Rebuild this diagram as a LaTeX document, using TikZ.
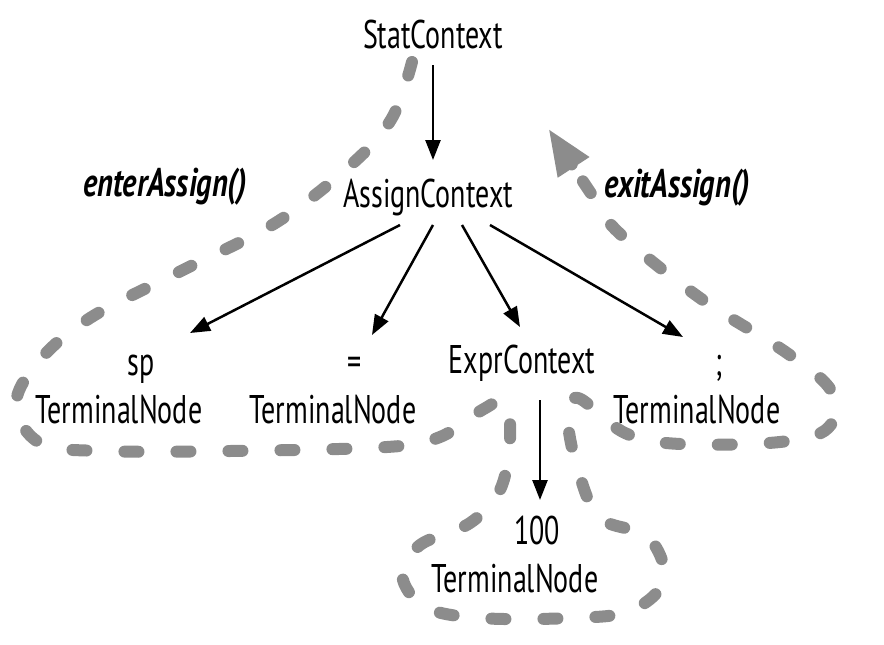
\documentclass[tikz,border=0pt]{standalone}
\usepackage{fontspec}
\setmainfont{PT Sans}[FakeStretch=0.70]
\newfontfamily\callfont{PT Sans}[FakeStretch=0.76]
\usetikzlibrary{arrows.meta}
\tikzset{
  ctx/.style={font=\fontsize{40}{48}\selectfont, inner sep=0pt, anchor=base},
  call/.style={ctx, font=\fontsize{40}{48}\selectfont\callfont\bfseries\itshape},
  term/.style={ctx, align=center},
  edge/.style={line width=2.5pt, -{Triangle[length=20pt,width=15pt]}},
  walk/.style={line width=12pt, line cap=round, draw=black!45,
    dash pattern=on 14pt off 38pt, -{Triangle[length=47pt,width=34pt,fill=black!45]}}
}
\newcommand{\tval}[1]{\hspace*{44pt}#1}
\begin{document}
\begin{tikzpicture}[x=1pt,y=-1pt]
    \useasboundingbox (0,0) rectangle (884,645);
    % tree
    \node[ctx] (stat) at (433,48) {StatContext};
    \node[ctx] (assign) at (428,207) {AssignContext};
    \node[call] (enter) at (165,196) {enterAssign()};
    \node[call] (exit) at (677,197) {exitAssign()};
    \node[term] (sp) at (119,423) {\tval{sp}\\TerminalNode};
    \node[term] (eq) at (333,423) {\tval{=}\\TerminalNode};
    \node[ctx] (expr) at (522,373) {ExprContext};
    \node[term] (semi) at (697,423) {\tval{;}\\TerminalNode};
    \node[term] (hundred) at (515,592) {\tval{100}\\TerminalNode};
    \draw[edge] ([yshift=-17pt]stat.base) -- ([xshift=5pt,yshift=47pt]assign.base);
    \draw[edge] ([xshift=-28pt,yshift=-18pt]assign.base) -- ([xshift=71pt,yshift=90pt]sp.base);
    \draw[edge] ([xshift=5pt,yshift=-18pt]assign.base) -- ([xshift=39pt,yshift=88pt]eq.base);
    \draw[edge] ([xshift=34pt,yshift=-18pt]assign.base) -- ([xshift=-2pt,yshift=46pt]expr.base);
    \draw[edge] ([xshift=62pt,yshift=-18pt]assign.base) -- ([xshift=-14pt,yshift=86pt]semi.base);
    \draw[edge] ([xshift=18pt,yshift=-27pt]expr.base) -- ([xshift=25pt,yshift=92pt]hundred.base);
    % walk round the tree
    \draw[walk] plot[smooth, tension=0.6] coordinates {(412,62) (392,118) (352,164) (277,222)
      (183,270) (90,318) (38,362) (16,405) (40,443) (100,451) (230,451) (387,447) (440,437)
      (482,410) (505,402) (510,440) (500,490) (470,523) (420,545) (402,575) (425,607) (480,618)
      (570,618) (630,611) (664,580) (648,537) (600,518) (578,470) (568,420) (578,398) (625,433)
      (680,444) (780,442) (828,428) (832,392) (787,353) (700,298) (618,232) (590,192) (548,128)};
\end{tikzpicture}
\end{document}
